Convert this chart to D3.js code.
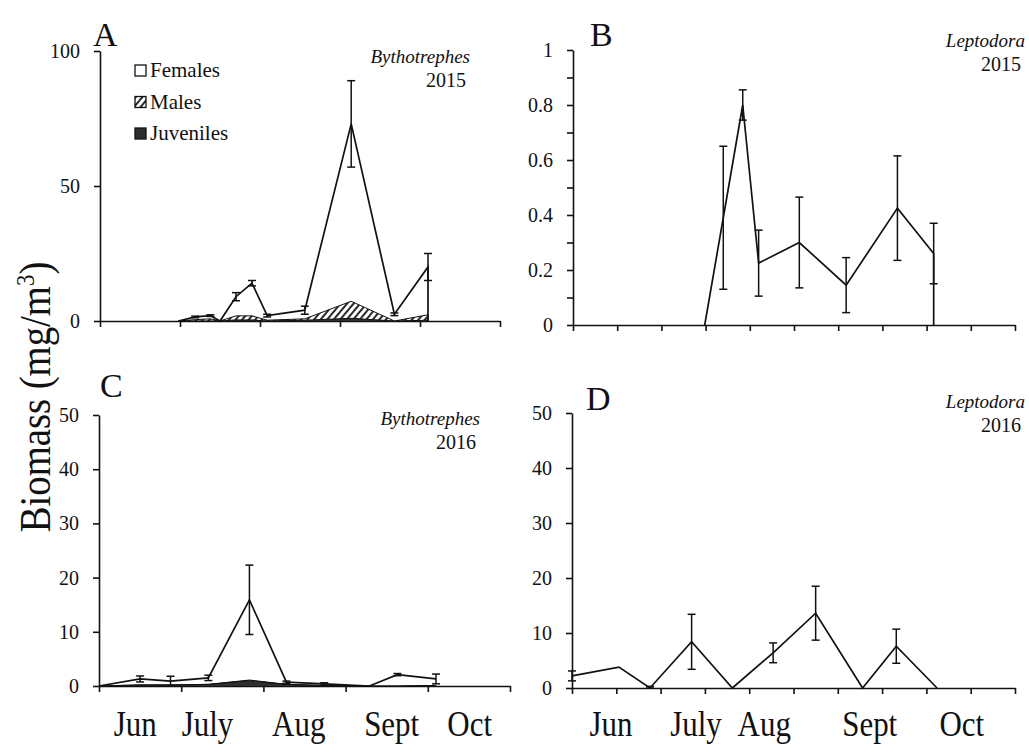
<!DOCTYPE html>
<html>
<head>
<meta charset="utf-8">
<script src="https://cdn.jsdelivr.net/npm/d3@7"></script>
<style>
  body { margin: 0; background: #fff; }
  svg text { font-family: "Liberation Serif", "Times New Roman", serif; fill: #111; }
  .axis path, .axis line { stroke: #111; stroke-width: 1.6; }
  .axis text { font-size: 20px; }
</style>
</head>
<body>
<svg id="chart" width="1029" height="753"></svg>
<script>
// x values are months after 1 June (0 = Jun 1, 1 = Jul 1 ...)
var monthLabels = ["Jun", "July", "Aug", "Sept", "Oct"];
var monthPosLeft = [0.44, 1.32, 2.43, 3.56, 4.51];
var monthPosRight = [0.44, 1.40, 2.17, 3.36, 4.40];

// A - Bythotrephes 2015
var bythoDate2015 = [0.98, 1.19, 1.38, 1.5, 1.7, 1.9, 2.09, 2.56, 3.14, 3.68, 4.1, 4.1];
var bythoFem2015  = [0, 1.0, 1.2, 0, 7.1, 12.1, 1.7, 3.2, 65.7, 2.5, 17.7, 0];
var bythoMale2015 = [0, 0.5, 0.8, 0, 1.5, 1.5, 0.3, 0.5, 6.3, 0, 2.0, 0];
var bythoJuv2015  = [0, 0, 0, 0, 0.4, 0.4, 0, 0.3, 1.0, 0, 0.3, 0];
var bythoSE2015   = [0, 0.3, 0.3, 0, 1.5, 1.0, 0.5, 1.5, 16, 0.5, 5, 0];

// B - Leptodora 2015
var leptoDate2015 = [1.49, 1.70, 1.92, 2.10, 2.56, 3.09, 3.67, 4.08, 4.08];
var lepto2015     = [0, 0.39, 0.8, 0.225, 0.30, 0.145, 0.425, 0.26, 0];
var leptoSE2015   = [0, 0.26, 0.055, 0.12, 0.165, 0.10, 0.19, 0.11, 0];

// C - Bythotrephes 2016
var bythoDate2016 = [0, 0.5, 0.87, 1.33, 1.83, 2.28, 2.74, 3.29, 3.63, 4.1];
var bythoFem2016  = [0, 1.1, 0.7, 1.2, 14.8, 0.4, 0.3, 0, 2.1, 1.2];
var bythoMale2016 = [0, 0, 0, 0, 0.1, 0, 0, 0, 0, 0];
var bythoJuv2016  = [0, 0.2, 0.2, 0.3, 1.0, 0.3, 0.1, 0, 0, 0.1];
var bythoSE2016   = [0, 0.55, 0.9, 0.5, 6.4, 0.2, 0.2, 0, 0.2, 0.9];

// D - Leptodora 2016
var leptoDate2016 = [0, 0.53, 0.88, 1.35, 1.81, 2.27, 2.75, 3.28, 3.66, 4.12];
var lepto2016     = [2.2, 3.8, 0, 8.4, 0, 6.4, 13.6, 0, 7.6, 0];
var leptoSE2016   = [0.9, 0, 0.3, 5, 0, 1.8, 4.9, 0, 3.1, 0];

var legendLabels = ["Females", "Males", "Juveniles"];

var svg = d3.select("#chart");

// hatch for males
var defs = svg.append("defs");
defs.append("pattern")
    .attr("id", "hatch")
    .attr("patternUnits", "userSpaceOnUse")
    .attr("width", 5).attr("height", 5)
    .attr("patternTransform", "rotate(40)")
  .append("line")
    .attr("x1", 1).attr("y1", 0).attr("x2", 1).attr("y2", 5)
    .attr("stroke", "#111").attr("stroke-width", 1.8);

var panels = [
  { id: "A", left: 100, right: 500, top: 51, bottom: 321, ymax: 100,
    yTicks: [0, 50, 100], minor: [], xStep: 1,
    species: "Bythotrephes", year: "2015", spX: 470, spY: 63,
    letterX: 93, letterY: 46, months: null },
  { id: "B", left: 573, right: 1015, top: 50, bottom: 325, ymax: 1,
    yTicks: [0, 0.2, 0.4, 0.6, 0.8, 1], minor: [0.1, 0.3, 0.5, 0.7, 0.9], xStep: 0.5,
    species: "Leptodora", year: "2015", spX: 1025, spY: 47,
    letterX: 590, letterY: 46, months: null },
  { id: "C", left: 99, right: 510, top: 415, bottom: 686, ymax: 50,
    yTicks: [0, 10, 20, 30, 40, 50], minor: [], xStep: 1,
    species: "Bythotrephes", year: "2016", spX: 480, spY: 425,
    letterX: 100, letterY: 397, months: monthPosLeft },
  { id: "D", left: 572, right: 1015, top: 413, bottom: 688, ymax: 50,
    yTicks: [0, 10, 20, 30, 40, 50], minor: [], xStep: 0.5,
    species: "Leptodora", year: "2016", spX: 1025, spY: 408,
    letterX: 586, letterY: 410, months: monthPosRight }
];

panels.forEach(function(p) {
  p.x = d3.scaleLinear().domain([0, 5]).range([p.left, p.right]);
  p.y = d3.scaleLinear().domain([0, p.ymax]).range([p.bottom, p.top]);
  var g = svg.append("g");

  // y axis
  g.append("g")
    .attr("class", "axis")
    .attr("transform", "translate(" + p.left + ",0)")
    .call(d3.axisLeft(p.y)
      .tickValues(p.yTicks.concat(p.minor).sort(d3.ascending))
      .tickSize(6).tickSizeOuter(0).tickPadding(14)
      .tickFormat(function(d) { return p.minor.indexOf(d) > -1 ? "" : d3.format("~g")(d); }));

  // x axis
  g.append("g")
    .attr("class", "axis")
    .attr("transform", "translate(0," + p.bottom + ")")
    .call(d3.axisBottom(p.x)
      .tickValues(d3.range(0, 5 + 1e-9, p.xStep))
      .tickSize(6).tickSizeOuter(0)
      .tickFormat(""));

  // panel letter
  g.append("text")
    .attr("x", p.letterX).attr("y", p.letterY)
    .style("font-size", "34px")
    .text(p.id);

  // species and year
  g.append("text")
    .attr("x", p.spX).attr("y", p.spY)
    .attr("text-anchor", "end")
    .style("font-size", "19px").style("font-style", "italic")
    .text(p.species);
  g.append("text")
    .attr("x", p.spX - 4).attr("y", p.spY + 24)
    .attr("text-anchor", "end")
    .style("font-size", "20px")
    .text(p.year);

  if (p.months) {
    g.selectAll(".month")
      .data(monthLabels)
      .enter().append("text")
      .attr("class", "month")
      .attr("transform", function(d, i) { return "translate(" + p.x(p.months[i]) + ",736) scale(0.86,1)"; })
      .attr("text-anchor", "middle")
      .style("font-size", "36px")
      .text(function(d) { return d; });
  }
  p.g = g;
});

function drawStacked(p, dates, fem, male, juv, se) {
  var rows = dates.map(function(d, i) {
    return { date: d, juv: juv[i], male: male[i], fem: fem[i], se: se[i] };
  });
  var stack = d3.stack().keys(["juv", "male", "fem"]);
  var layers = stack(rows);
  var fills = { juv: "#2e2e2e", male: "url(#hatch)", fem: "#fff" };

  var area = d3.area()
    .x(function(d) { return p.x(d.data.date); })
    .y0(function(d) { return p.y(d[0]); })
    .y1(function(d) { return p.y(d[1]); });
  var topLine = d3.line()
    .x(function(d) { return p.x(d.data.date); })
    .y(function(d) { return p.y(d[1]); });

  // draw top layer first so hatch/dark sit on top of white
  layers.slice().reverse().forEach(function(layer) {
    p.g.append("path")
      .datum(layer)
      .attr("d", area)
      .attr("fill", fills[layer.key])
      .attr("stroke", "none");
  });
  layers.forEach(function(layer) {
    p.g.append("path")
      .datum(layer)
      .attr("d", topLine)
      .attr("fill", "none")
      .attr("stroke", "#111")
      .attr("stroke-width", layer.key === "fem" ? 1.7 : 1.0);
  });

  var totals = rows.map(function(r) { return { date: r.date, v: r.juv + r.male + r.fem, se: r.se }; });
  drawErrors(p, totals);
}

function drawErrors(p, pts) {
  var bars = p.g.selectAll(null)
    .data(pts.filter(function(d) { return d.se > 0; }))
    .enter().append("g")
    .attr("stroke", "#111").attr("stroke-width", 1.5);
  bars.append("line")
    .attr("x1", function(d) { return p.x(d.date); })
    .attr("x2", function(d) { return p.x(d.date); })
    .attr("y1", function(d) { return p.y(Math.max(0, d.v - d.se)); })
    .attr("y2", function(d) { return p.y(d.v + d.se); });
  [1, -1].forEach(function(s) {
    bars.append("line")
      .attr("x1", function(d) { return p.x(d.date) - 4; })
      .attr("x2", function(d) { return p.x(d.date) + 4; })
      .attr("y1", function(d) { return p.y(Math.max(0, d.v + s * d.se)); })
      .attr("y2", function(d) { return p.y(Math.max(0, d.v + s * d.se)); });
  });
}

function drawLine(p, dates, vals, se) {
  var pts = dates.map(function(d, i) { return { date: d, v: vals[i], se: se[i] }; });
  p.g.append("path")
    .datum(pts)
    .attr("d", d3.line()
      .x(function(d) { return p.x(d.date); })
      .y(function(d) { return p.y(d.v); }))
    .attr("fill", "none")
    .attr("stroke", "#111")
    .attr("stroke-width", 1.7);
  drawErrors(p, pts);
}

drawStacked(panels[0], bythoDate2015, bythoFem2015, bythoMale2015, bythoJuv2015, bythoSE2015);
drawLine(panels[1], leptoDate2015, lepto2015, leptoSE2015);
drawStacked(panels[2], bythoDate2016, bythoFem2016, bythoMale2016, bythoJuv2016, bythoSE2016);
drawLine(panels[3], leptoDate2016, lepto2016, leptoSE2016);

// legend in panel A
var legendFills = ["#fff", "url(#hatch)", "#2e2e2e"];
var legend = svg.selectAll(".legend")
  .data(legendLabels)
  .enter().append("g")
  .attr("class", "legend")
  .attr("transform", function(d, i) { return "translate(135," + (65 + i * 31.5) + ")"; });
legend.append("rect")
  .attr("width", 11).attr("height", 11)
  .attr("fill", function(d, i) { return legendFills[i]; })
  .attr("stroke", "#111").attr("stroke-width", 1.3);
legend.append("text")
  .attr("x", 15).attr("y", 12)
  .style("font-size", "21px")
  .text(function(d) { return d; });

// shared y title
var title = svg.append("text")
  .attr("transform", "translate(50,397) rotate(-90) scale(0.88,1)")
  .attr("text-anchor", "middle")
  .style("font-size", "44px");
title.append("tspan").text("Biomass (mg/m");
title.append("tspan").attr("dy", -16).style("font-size", "26px").text("3");
title.append("tspan").attr("dy", 16).text(")");
</script>
</body>
</html>
